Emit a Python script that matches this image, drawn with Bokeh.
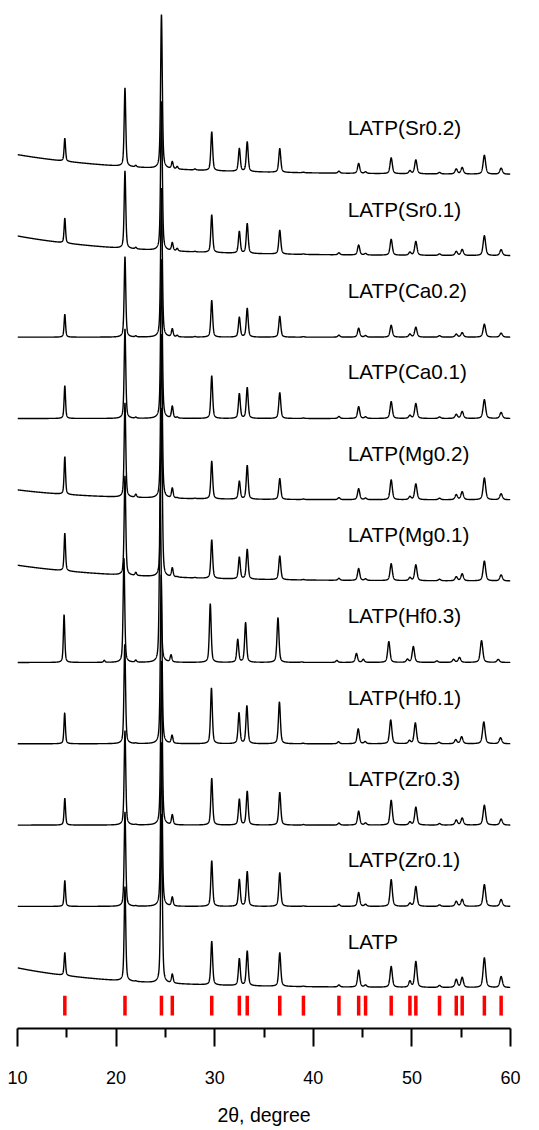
import numpy as np
from bokeh.plotting import figure
from bokeh.models import Range1d, FixedTicker, ColumnDataSource
from bokeh.core.properties import value
from bokeh.embed import file_html
from bokeh.resources import INLINE

# ---------------- data ----------------
samples = ["LATP", "LATP(Zr0.1)", "LATP(Zr0.3)", "LATP(Hf0.1)", "LATP(Hf0.3)",
           "LATP(Mg0.1)", "LATP(Mg0.2)", "LATP(Ca0.1)", "LATP(Ca0.2)",
           "LATP(Sr0.1)", "LATP(Sr0.2)"]

# reference (PDF) reflection positions, 2theta
ref_pos = [14.8, 20.9, 24.6, 25.7, 29.7, 32.5, 33.3, 36.6, 39.0, 42.6,
           44.6, 45.3, 47.9, 49.8, 50.4, 52.8, 54.5, 55.1, 57.35, 59.05]

# peak heights (a.u.) of each sample at the reference positions
h_LATP = [23, 95, 170, 9, 44, 27, 35, 34, 0.5, 2, 17, 2, 21, 6, 26, 2, 8, 10, 30, 11]
h_Zr01 = [26, 95, 165, 9, 46, 27, 35, 34, 0.5, 2, 14, 2, 27, 3, 20, 1.5, 5, 7, 22, 7]
h_Zr03 = [27, 95, 165, 10, 47, 26, 34, 33, 0.5, 2, 14, 2, 25, 3, 18, 1.5, 5, 7, 20, 6]
h_Hf01 = [31, 100, 170, 8, 56, 31, 38, 42, 0.5, 2, 15, 2, 24, 3, 21, 1.5, 4, 7, 22, 6]
h_Hf03 = [48, 105, 175, 7, 59, 23, 40, 45, 0.5, 2, 9, 3, 21, 3, 16, 1.5, 3, 5, 22, 3]
h_Mg01 = [38, 100, 170, 9, 39, 22, 30, 24, 0.5, 2, 12, 1.5, 17, 3, 16, 1.5, 4, 7, 20, 6]
h_Mg02 = [38, 95, 165, 10, 38, 18, 34, 21, 0.5, 2, 11, 1.5, 20, 3, 16, 1.5, 5, 8, 22, 6]
h_Ca01 = [33, 90, 160, 12, 43, 25, 31, 26, 0.5, 2, 12, 1.5, 17, 3, 15, 1.5, 4, 7, 19, 6]
h_Ca02 = [23, 81, 150, 8, 37, 20, 29, 21, 0.5, 2, 9, 1.5, 12, 3, 10, 1.5, 3, 4.5, 13, 4]
h_Sr01 = [25, 78, 150, 8, 38, 22, 30, 24, 0.5, 2, 10, 1.5, 16, 3, 14, 1.5, 4, 6, 20, 6]
h_Sr02 = [23, 79, 155, 7, 39, 23, 30, 24, 0.5, 2, 10, 1.5, 16, 3, 14, 1.5, 5, 6.5, 19, 6]
heights = [h_LATP, h_Zr01, h_Zr03, h_Hf01, h_Hf03, h_Mg01, h_Mg02,
           h_Ca01, h_Ca02, h_Sr01, h_Sr02]

# minor impurity / extra reflections
extra_pos = [18.8, 22.0, 26.2, 28.0]
extra_h = [[0, 0.5, 0, 0], [0, 0.5, 0, 0], [0, 0.5, 0, 0], [0, 0.5, 0, 0],
           [2, 2, 0, 0], [0, 3, 0.5, 0.5], [0, 3, 0.5, 0.5], [0, 1, 1, 0],
           [0, 1, 1.5, 0.5], [0, 1.5, 2.5, 0.5], [0, 1.5, 2.5, 1]]

# peak-position scale factor (lattice expansion)
pos_scale = [1.0, 1.0, 1.0, 0.999, 0.995, 1.0, 1.0, 1.0, 1.0, 1.0, 1.0]

# low-angle background: amplitude at 10 deg and decay length (deg)
bg_amp = [20, 0, 0, 0, 0, 16, 10, 0, 0, 20, 20]
bg_tau = [10, 10, 10, 10, 10, 11, 8, 10, 10, 11, 12]

offset_step = 81.8

# ---------------- figure ----------------
p = figure(width=528, height=1128, x_range=Range1d(10, 60), y_range=Range1d(-41, 985),
           output_backend="svg", toolbar_location=None, y_axis_location=None,
           min_border_left=17, min_border_right=18, min_border_top=8, min_border_bottom=94)
p.grid.visible = False
p.outline_line_color = None
p.background_fill_color = "white"

tt = np.arange(10.0, 60.0001, 0.01)


def profile(x, c, h):
    fw = 0.13 + 0.003 * c
    g = np.exp(-4 * np.log(2) * ((x - c) / fw) ** 2)
    lo = 1.0 / (1.0 + 4 * ((x - c) / fw) ** 2)
    return h * (0.5 * g + 0.5 * lo)


for i, name in enumerate(samples):
    y = np.full_like(tt, i * offset_step)
    y += bg_amp[i] * np.exp(-(tt - 10) / bg_tau[i])
    for c, h in zip(ref_pos, heights[i]):
        y += profile(tt, c * pos_scale[i], h)
    for c, h in zip(extra_pos, extra_h[i]):
        y += profile(tt, c, h)
    p.line(tt, y, line_color="black", line_width=1.4)

lab = ColumnDataSource(dict(x=[43.5] * len(samples),
                            y=[i * offset_step + 47 for i in range(len(samples))],
                            t=samples))
p.text(x="x", y="y", text="t", source=lab, text_font=value("Liberation Sans"),
       text_font_size="20.7px", text_color="black", text_baseline="alphabetic",
       text_align="left")

p.segment(x0=ref_pos, x1=ref_pos, y0=[-8] * len(ref_pos), y1=[-28] * len(ref_pos),
          line_color="#ff0000", line_width=3.5)

ax = p.xaxis[0]
ax.ticker = FixedTicker(ticks=[10, 20, 30, 40, 50, 60], minor_ticks=[15, 25, 35, 45, 55])
ax.axis_label = "2θ, degree"
ax.axis_label_text_font = "Liberation Sans"
ax.axis_label_text_font_style = "normal"
ax.axis_label_text_font_size = "19.5px"
ax.axis_label_standoff = 17
ax.major_label_text_font = "Liberation Sans"
ax.major_label_text_font_size = "18px"
ax.major_label_standoff = 24
ax.axis_line_width = 2
ax.major_tick_line_width = 2
ax.minor_tick_line_width = 2
ax.major_tick_out = 18
ax.major_tick_in = 0
ax.minor_tick_out = 9
ax.minor_tick_in = 0
ax.axis_line_color = "black"
ax.major_tick_line_color = "black"
ax.minor_tick_line_color = "black"
ax.major_label_text_color = "black"
ax.axis_label_text_color = "black"

open("out.html", "w").write(file_html(p, INLINE))
